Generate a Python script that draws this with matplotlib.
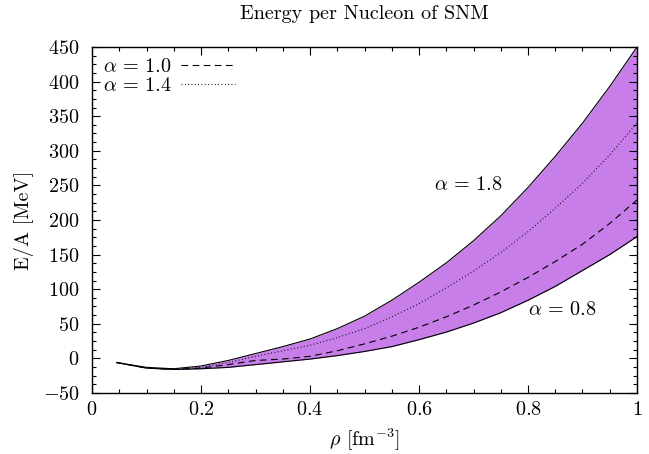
import matplotlib
matplotlib.use("Agg")
import matplotlib.pyplot as plt
from matplotlib.ticker import MultipleLocator, FuncFormatter

plt.rcParams['font.family'] = 'serif'
plt.rcParams['font.serif'] = ['cmr10']
plt.rcParams['mathtext.fontset'] = 'cm'
plt.rcParams['axes.unicode_minus'] = False

# density grid [fm^-3]
rho = [0.045, 0.10, 0.15, 0.20, 0.25, 0.30, 0.35, 0.40, 0.45, 0.50,
       0.55, 0.60, 0.65, 0.70, 0.75, 0.80, 0.85, 0.90, 0.95, 1.00]

# E/A [MeV] for each alpha
e_a18 = [-6, -13, -15, -11, -3, 7, 17, 28, 43, 61,
         84, 110, 138, 170, 206, 247, 292, 340, 393, 450]
e_a14 = [-6, -14, -16, -13, -6, 3, 11, 19, 30, 43,
         60, 79, 102, 126, 153, 183, 217, 253, 294, 340]
e_a10 = [-6, -14, -16, -14, -9, -3, -1, 3, 11, 21,
         32, 45, 60, 77, 96, 117, 140, 165, 195, 229]
e_a08 = [-6, -14, -16, -15, -13, -9, -5, -1, 4, 10,
         17, 27, 38, 51, 66, 84, 104, 127, 150, 176]

FS = 14.5

fig = plt.figure(figsize=(6.49, 4.54), dpi=100)
ax = fig.add_axes([0.1418, 0.1344, 0.8397, 0.7621])

ax.fill_between(rho, e_a08, e_a18, color='#c77ee8', lw=0)
ax.plot(rho, e_a18, color='black', lw=0.8)
ax.plot(rho, e_a08, color='black', lw=0.8)
ax.plot(rho, e_a10, color='black', lw=0.8, dashes=(6, 4), label=r'$\alpha\,=\,1.0$')
ax.plot(rho, e_a14, color='black', lw=0.8, dashes=(0.8, 2.2), label=r'$\alpha\,=\,1.4$')

ax.text(0.69, 250, r'$\alpha\,=\,1.8$', fontsize=FS, ha='center', va='center')
ax.text(0.862, 70, r'$\alpha\,=\,0.8$', fontsize=FS, ha='center', va='center')

ax.set_xlim(0, 1)
ax.set_ylim(-50, 450)
ax.xaxis.set_major_locator(MultipleLocator(0.2))
ax.xaxis.set_minor_locator(MultipleLocator(0.05))
ax.yaxis.set_major_locator(MultipleLocator(50))
ax.yaxis.set_minor_locator(MultipleLocator(12.5))
ax.xaxis.set_major_formatter(FuncFormatter(lambda v, p: f'${v:g}$'))
ax.yaxis.set_major_formatter(FuncFormatter(lambda v, p: f'${v:g}$'))
ax.tick_params(which='both', direction='in', top=True, right=True, labelsize=FS, width=0.8)
ax.tick_params(which='major', length=6)
ax.tick_params(which='minor', length=3)
ax.tick_params(axis='x', which='major', pad=6)
ax.tick_params(axis='y', which='major', pad=9)
for s in ax.spines.values():
    s.set_linewidth(1.0)

ax.set_xlabel(r'$\rho$ [fm$^{-3}$]', fontsize=FS, labelpad=5)
ax.set_ylabel('E/A [MeV]', fontsize=FS, labelpad=6)
ax.set_title('Energy per Nucleon of SNM', fontsize=FS, pad=20)

ax.legend(loc='upper left', frameon=False, markerfirst=False, fontsize=FS,
          handlelength=2.7, handletextpad=0.45, labelspacing=0.05,
          borderaxespad=0.2, borderpad=0.35)

fig.savefig('out.png', dpi=100)
